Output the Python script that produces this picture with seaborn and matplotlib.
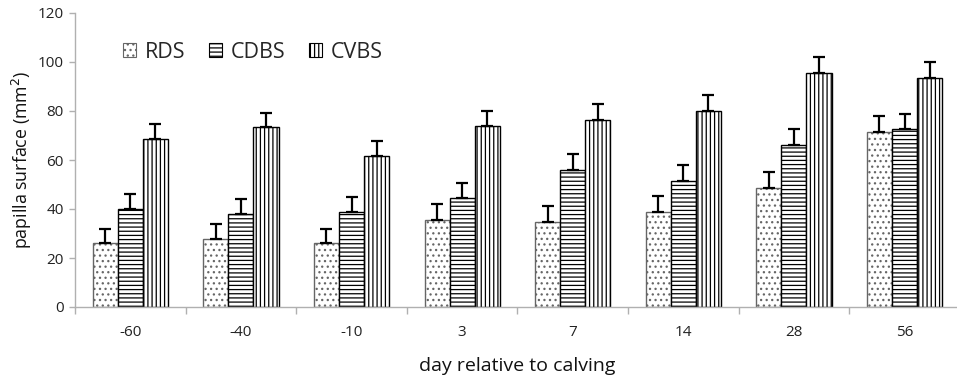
import matplotlib
matplotlib.use("Agg")
import matplotlib.pyplot as plt
import seaborn as sns
import pandas as pd
import numpy as np
from matplotlib.patches import Patch

days = ["-60", "-40", "-10", "3", "7", "14", "28", "56"]
groups = ["RDS", "CDBS", "CVBS"]
rds = [26.0, 27.6, 26.0, 35.6, 34.6, 38.6, 48.6, 71.6]
cdbs = [40.0, 38.0, 38.6, 44.4, 55.8, 51.4, 66.0, 72.5]
cvbs = [68.6, 73.3, 61.8, 73.9, 76.2, 80.1, 95.4, 93.6]
rds_err = [5.8, 6.4, 6.0, 6.4, 6.8, 6.6, 6.4, 6.5]
cdbs_err = [6.0, 6.0, 6.4, 6.3, 6.6, 6.6, 6.7, 6.4]
cvbs_err = [6.1, 6.0, 6.1, 6.2, 6.5, 6.6, 6.5, 6.5]

sns.set_theme(style="white")
plt.rcParams["font.family"] = ["Open Sans", "DejaVu Sans"]
plt.rcParams["hatch.linewidth"] = 0.9

df = pd.DataFrame({
    "day": days * 3,
    "group": [g for g in groups for _ in days],
    "value": rds + cdbs + cvbs,
})
errs = {"RDS": rds_err, "CDBS": cdbs_err, "CVBS": cvbs_err}
vals = {"RDS": rds, "CDBS": cdbs, "CVBS": cvbs}

fig = plt.figure(figsize=(9.57, 3.8), dpi=100)
ax = fig.add_axes([75 / 957, 1 - 307 / 380, 1 - 75 / 957 + 0.003, (307 - 13) / 380])

sns.barplot(data=df, x="day", y="value", hue="group", order=days, hue_order=groups,
            palette=["white"] * 3, width=0.68, gap=0, errorbar=None,
            edgecolor="black", linewidth=1.0, ax=ax, legend=False)

hatches = {"RDS": "...", "CDBS": "----", "CVBS": "||||"}
edges = {"RDS": "#666666", "CDBS": "black", "CVBS": "black"}
ncat = len(days)
for gi, g in enumerate(groups):
    cont = ax.containers[gi]
    xs = []
    for p in cont.patches:
        p.set_hatch(hatches[g])
        p.set_edgecolor(edges[g])
        p.set_facecolor("white")
        xs.append(p.get_x() + p.get_width() / 2)
    ax.errorbar(xs, vals[g], yerr=[np.zeros(ncat), errs[g]], fmt="none",
                ecolor="black", elinewidth=1.6, capsize=4, capthick=1.6, zorder=3)

ax.set_ylim(0, 120)
ax.set_xlim(-0.5, ncat - 0.5)
ax.set_yticks(range(0, 121, 20))
ax.tick_params(axis="y", labelsize=11, length=4, width=1.0, color="#b0b0b0", left=True,
               pad=4, labelcolor="#222222")
ax.tick_params(axis="x", which="major", labelsize=11, length=0, pad=13, labelcolor="#222222")
ax.set_xticks(np.arange(-0.5, ncat, 1.0), minor=True)
ax.tick_params(axis="x", which="minor", length=5, color="#b0b0b0", width=1.0, bottom=True)
for s in ["top", "right"]:
    ax.spines[s].set_visible(False)
for s in ["left", "bottom"]:
    ax.spines[s].set_color("#b0b0b0")
    ax.spines[s].set_linewidth(1.0)
ax.set_ylabel("papilla surface (mm$^2$)", fontsize=12.8, labelpad=3, color="#111111")
ax.set_xlabel("day relative to calving", fontsize=14, labelpad=12, color="#111111")
ax.grid(False)

handles = [Patch(facecolor="white", edgecolor=edges[g], hatch=hatches[g], linewidth=0.8, label=g)
           for g in groups]
fig.legend(handles=handles, loc="center left", bbox_to_anchor=(114 / 957, 1 - 52 / 380),
           ncol=3, frameon=False, fontsize=15.5, handlelength=0.62, handleheight=0.62,
           handletextpad=0.4, columnspacing=1.1, borderaxespad=0)

fig.savefig("out.png", dpi=100)
